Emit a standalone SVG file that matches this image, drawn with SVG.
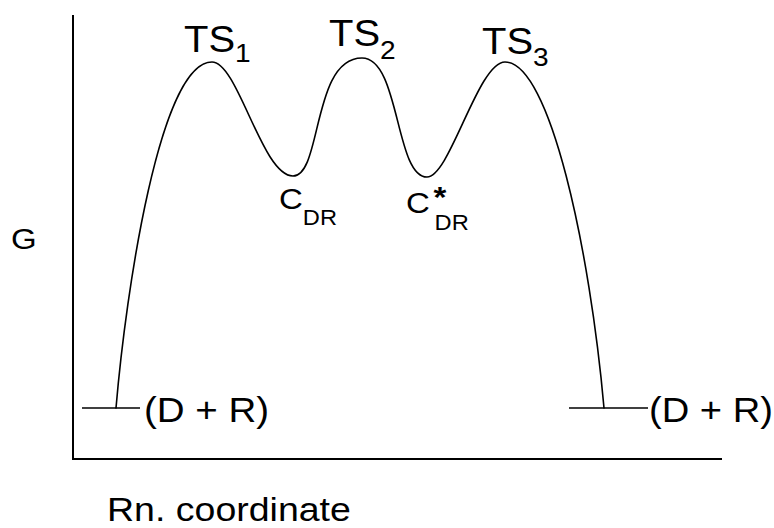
<svg xmlns="http://www.w3.org/2000/svg" width="774" height="528" viewBox="0 0 774 528">
<style>
  text { font-family: "Liberation Sans", Arial, sans-serif; fill: #000; }
  .axis { stroke: #000; stroke-width: 2; fill: none; }
  .curve { stroke: #000; stroke-width: 1.6; fill: none; stroke-linecap: round; stroke-linejoin: round; }
  .level { stroke: #000; stroke-width: 1.6; fill: none; }
</style>
<rect width="774" height="528" fill="#fff"/>
<g id="axes">
  <line class="axis" x1="73" y1="15" x2="73" y2="460"/>
  <line class="axis" x1="72" y1="459" x2="722" y2="459"/>
</g>
<g id="profile">
  <line class="level" x1="82" y1="408" x2="140" y2="408"/>
  <line class="level" x1="569" y1="408" x2="648" y2="408"/>
  <path class="curve" d="M116,408 C126,290 160,62 212,62 C238,62 262,176 293,176 C322,176 312,58 362,58 C400,58 395,177 427,177 C450,177 478,62 505,62 C550,62 590,250 604,408"/>
</g>
<g id="labels">
  <text transform="translate(11,249) scale(1.1,1)" font-size="30">G</text>
  <text transform="translate(184,52) scale(1.08,1)" font-size="37">TS<tspan font-size="26" dy="10">1</tspan></text>
  <text transform="translate(329,46) scale(1.08,1)" font-size="37">TS<tspan font-size="26" dy="13">2</tspan></text>
  <text transform="translate(482,54) scale(1.08,1)" font-size="37">TS<tspan font-size="26" dy="12">3</tspan></text>
  <text transform="translate(279,209) scale(1.1,1)" font-size="30">C<tspan font-size="21.5" dy="16">DR</tspan></text>
  <text transform="translate(406,213) scale(1.1,1)" font-size="30">C<tspan x="25" y="-6" font-size="30" font-weight="bold">*</tspan><tspan x="26" y="17" font-size="21.5">DR</tspan></text>
  <text transform="translate(144,422) scale(1.1,1)" font-size="35">(D + R)</text>
  <text transform="translate(649,422) scale(1.09,1)" font-size="35">(D + R)</text>
  <text transform="translate(107,521) scale(1.12,1)" font-size="33.5">Rn. coordinate</text>
</g>
</svg>
